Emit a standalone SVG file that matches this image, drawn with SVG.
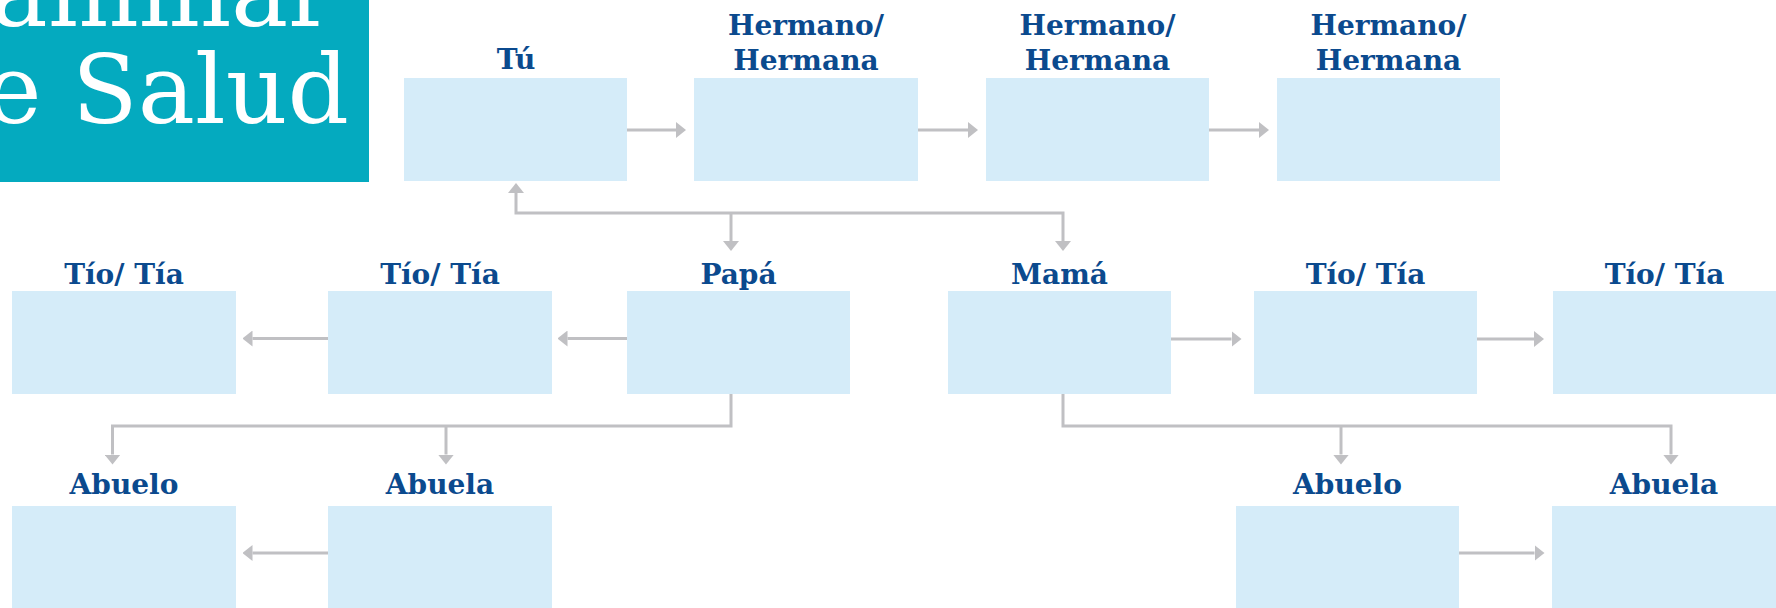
<svg xmlns="http://www.w3.org/2000/svg" width="1776" height="608" viewBox="0 0 1776 608">
<defs>
<style>
.box{fill:#D5ECF9;}
.lbl{font-family:"DejaVu Serif","Liberation Serif",serif;font-weight:bold;font-size:28px;fill:#0B4A8E;text-anchor:middle;}
.title{font-family:"DejaVu Serif","Liberation Serif",serif;font-size:96px;fill:#FFFFFF;text-anchor:end;}
.con{fill:none;stroke:#C0C0C3;stroke-width:3;marker-end:url(#ah);}
.con2{fill:none;stroke:#C0C0C3;stroke-width:3;}
</style>
<marker id="ah" viewBox="0 0 10 16" refX="0" refY="8" markerWidth="10" markerHeight="16" markerUnits="userSpaceOnUse" orient="auto">
<path d="M0,0 L10,8 L0,16 Z" fill="#C0C0C3"/>
</marker>
</defs>
<rect width="1776" height="608" fill="#FFFFFF"/>
<g id="title">
<rect x="0" y="0" width="369" height="182" fill="#04AABF"/>
<text class="title" x="334" y="26">Familiar</text>
<text class="title" x="349" y="123">de Salud</text>
</g>
<g id="connectors">
<path class="con" d="M627,130 H676"/>
<path class="con" d="M918,130 H968"/>
<path class="con" d="M1208,130 H1259"/>
<path class="con" d="M731,213 H516 V193"/>
<path class="con" d="M731,213 H1063 V241"/>
<path class="con" d="M731,213 V241"/>
<path class="con" d="M627,338.5 H567.5"/>
<path class="con" d="M328,338.5 H252.5"/>
<path class="con" d="M1171,339 H1231.5"/>
<path class="con" d="M1477,339 H1534"/>
<path class="con" d="M731,394 V426 H112.5 V454.5"/>
<path class="con" d="M446,426 V454.5"/>
<path class="con" d="M1063,394 V426 H1671 V454.5"/>
<path class="con" d="M1341,426 V454.5"/>
<path class="con" d="M328,553 H252.5"/>
<path class="con" d="M1459,553 H1534.5"/>
</g>
<g id="tu"><rect class="box" x="404" y="78" width="223" height="103"/><text class="lbl" x="516" y="69">Tú</text></g>
<g id="hermano1"><rect class="box" x="694" y="78" width="224" height="103"/><text class="lbl" x="806" y="35">Hermano/</text><text class="lbl" x="806" y="70">Hermana</text></g>
<g id="hermano2"><rect class="box" x="986" y="78" width="223" height="103"/><text class="lbl" x="1097.5" y="35">Hermano/</text><text class="lbl" x="1097.5" y="70">Hermana</text></g>
<g id="hermano3"><rect class="box" x="1277" y="78" width="223" height="103"/><text class="lbl" x="1388.5" y="35">Hermano/</text><text class="lbl" x="1388.5" y="70">Hermana</text></g>
<g id="tio1"><rect class="box" x="12" y="291" width="224" height="103"/><text class="lbl" x="124" y="284">Tío/ Tía</text></g>
<g id="tio2"><rect class="box" x="328" y="291" width="224" height="103"/><text class="lbl" x="440" y="284">Tío/ Tía</text></g>
<g id="papa"><rect class="box" x="627" y="291" width="223" height="103"/><text class="lbl" x="738.5" y="284">Papá</text></g>
<g id="mama"><rect class="box" x="948" y="291" width="223" height="103"/><text class="lbl" x="1059.5" y="284">Mamá</text></g>
<g id="tio3"><rect class="box" x="1254" y="291" width="223" height="103"/><text class="lbl" x="1365.5" y="284">Tío/ Tía</text></g>
<g id="tio4"><rect class="box" x="1553" y="291" width="223" height="103"/><text class="lbl" x="1664.5" y="284">Tío/ Tía</text></g>
<g id="abuelo1"><rect class="box" x="12" y="506" width="224" height="102"/><text class="lbl" x="124" y="494">Abuelo</text></g>
<g id="abuela1"><rect class="box" x="328" y="506" width="224" height="102"/><text class="lbl" x="440" y="494">Abuela</text></g>
<g id="abuelo2"><rect class="box" x="1236" y="506" width="223" height="102"/><text class="lbl" x="1347.5" y="494">Abuelo</text></g>
<g id="abuela2"><rect class="box" x="1552" y="506" width="224" height="102"/><text class="lbl" x="1664" y="494">Abuela</text></g>
</svg>
